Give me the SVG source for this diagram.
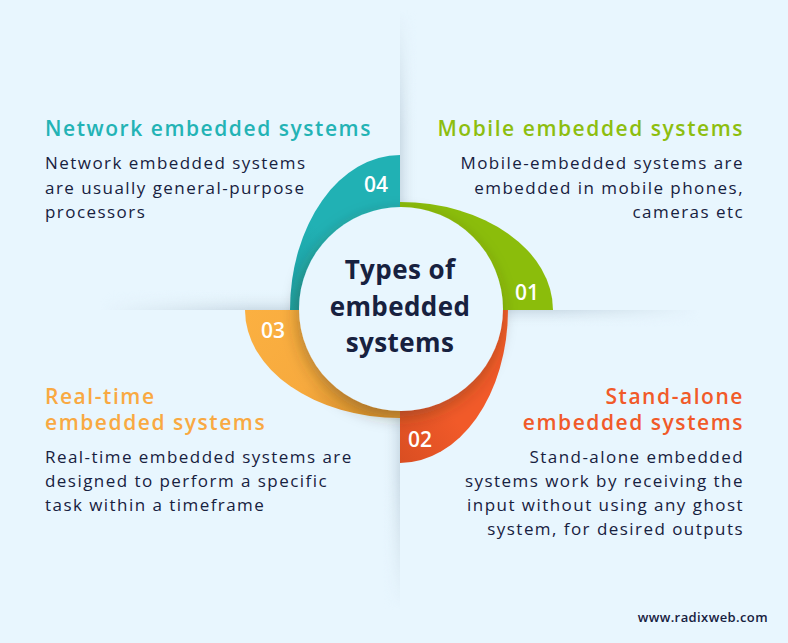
<svg xmlns="http://www.w3.org/2000/svg" width="788" height="643" viewBox="0 0 788 643">
  <defs>
    <style>
      .h { font-family: "Open Sans", "Liberation Sans", sans-serif; font-weight: 600; font-size: 21px; letter-spacing: 1.55px; }
      .b { font-family: "Open Sans", "Liberation Sans", sans-serif; font-weight: 400; font-size: 17px; letter-spacing: 1.45px; fill: #17213F; }
      .num { font-family: "Open Sans", "Liberation Sans", sans-serif; font-weight: 600; font-size: 21px; fill: #FFFFFF; }
      .ctr { font-family: "Open Sans", "Liberation Sans", sans-serif; font-weight: 700; font-size: 26px; letter-spacing: 0.4px; fill: #17213F; text-anchor: middle; }
      .r { text-anchor: end; }
    </style>
    <linearGradient id="shL" x1="0" y1="1" x2="0" y2="0">
      <stop offset="0" stop-color="#C9D9E4" stop-opacity="0.9"/>
      <stop offset="1" stop-color="#E8F6FE" stop-opacity="0"/>
    </linearGradient>
    <linearGradient id="shR" x1="0" y1="0" x2="0" y2="1">
      <stop offset="0" stop-color="#C9D9E4" stop-opacity="0.9"/>
      <stop offset="1" stop-color="#E8F6FE" stop-opacity="0"/>
    </linearGradient>
    <linearGradient id="shT" x1="0" y1="0" x2="1" y2="0">
      <stop offset="0" stop-color="#C9D9E4" stop-opacity="0.9"/>
      <stop offset="1" stop-color="#E8F6FE" stop-opacity="0"/>
    </linearGradient>
    <linearGradient id="shB" x1="1" y1="0" x2="0" y2="0">
      <stop offset="0" stop-color="#C9D9E4" stop-opacity="0.9"/>
      <stop offset="1" stop-color="#E8F6FE" stop-opacity="0"/>
    </linearGradient>
    <linearGradient id="fadeH1" x1="0" y1="0" x2="1" y2="0">
      <stop offset="0" stop-color="#fff" stop-opacity="0"/>
      <stop offset="0.5" stop-color="#fff" stop-opacity="1"/>
      <stop offset="1" stop-color="#fff" stop-opacity="1"/>
    </linearGradient>
    <linearGradient id="fadeH2" x1="0" y1="0" x2="1" y2="0">
      <stop offset="0" stop-color="#fff" stop-opacity="1"/>
      <stop offset="0.5" stop-color="#fff" stop-opacity="1"/>
      <stop offset="1" stop-color="#fff" stop-opacity="0"/>
    </linearGradient>
    <linearGradient id="fadeV1" x1="0" y1="0" x2="0" y2="1">
      <stop offset="0" stop-color="#fff" stop-opacity="0"/>
      <stop offset="0.4" stop-color="#fff" stop-opacity="1"/>
      <stop offset="1" stop-color="#fff" stop-opacity="1"/>
    </linearGradient>
    <linearGradient id="fadeV2" x1="0" y1="0" x2="0" y2="1">
      <stop offset="0" stop-color="#fff" stop-opacity="1"/>
      <stop offset="0.55" stop-color="#fff" stop-opacity="1"/>
      <stop offset="1" stop-color="#fff" stop-opacity="0"/>
    </linearGradient>
    <mask id="mL"><rect x="100" y="290" width="300" height="20" fill="url(#fadeH1)"/></mask>
    <mask id="mR"><rect x="400" y="310" width="300" height="18" fill="url(#fadeH2)"/></mask>
    <mask id="mT"><rect x="400" y="10" width="18" height="300" fill="url(#fadeV1)"/></mask>
    <mask id="mB"><rect x="382" y="310" width="18" height="300" fill="url(#fadeV2)"/></mask>
    <linearGradient id="gOrange" x1="0" y1="0" x2="1" y2="0.6">
      <stop offset="0" stop-color="#FBB041"/>
      <stop offset="0.6" stop-color="#F7AA3E"/>
      <stop offset="1" stop-color="#DE952F"/>
    </linearGradient>
    <linearGradient id="gTeal" x1="0" y1="1" x2="0.6" y2="0">
      <stop offset="0" stop-color="#1C9FA2"/>
      <stop offset="0.5" stop-color="#21B1B4"/>
      <stop offset="1" stop-color="#21B1B4"/>
    </linearGradient>
    <linearGradient id="gRed" x1="1" y1="0" x2="0" y2="1">
      <stop offset="0" stop-color="#F15A29"/>
      <stop offset="0.6" stop-color="#F15A29"/>
      <stop offset="1" stop-color="#D94E22"/>
    </linearGradient>
    <filter id="ds" x="-30%" y="-30%" width="160%" height="160%">
      <feDropShadow dx="-2" dy="6" stdDeviation="8" flood-color="#3A3020" flood-opacity="0.35"/>
    </filter>
  </defs>

  <rect x="0" y="0" width="788" height="643" fill="#E8F6FE"/>

  <g id="panel-shadows">
    <rect x="100" y="290" width="300" height="20" fill="url(#shL)" mask="url(#mL)"/>
    <rect x="400" y="310" width="300" height="18" fill="url(#shR)" mask="url(#mR)"/>
    <rect x="400" y="10" width="18" height="300" fill="url(#shT)" mask="url(#mT)"/>
    <rect x="382" y="310" width="18" height="300" fill="url(#shB)" mask="url(#mB)"/>
  </g>

  <g id="ring">
    <g id="seg-01"><path d="M400,310 L400,202 A153,108 0 0 1 553,310 Z" fill="#8BBD0B"/></g>
    <g id="seg-02"><path d="M400,310 L508,310 A108,153 0 0 1 400,463 Z" fill="url(#gRed)"/></g>
    <g id="seg-03"><path d="M400,310 L400,418 A155,108 0 0 1 245,310 Z" fill="url(#gOrange)"/></g>
    <g id="seg-04"><path d="M400,310 L290,310 A110,155 0 0 1 400,155 Z" fill="url(#gTeal)"/></g>
    <text class="num" x="527" y="300" text-anchor="middle">01</text>
    <text class="num" x="420" y="447" text-anchor="middle">02</text>
    <text class="num" x="273" y="338" text-anchor="middle">03</text>
    <text class="num" x="376" y="192" text-anchor="middle">04</text>
  </g>

  <g id="center">
    <circle cx="401" cy="309" r="102" fill="#E8F6FE" filter="url(#ds)"/>
    <text class="ctr" x="400" y="279">Types of</text>
    <text class="ctr" x="400" y="316">embedded</text>
    <text class="ctr" x="400" y="352">systems</text>
  </g>

  <g id="network">
    <text class="h" x="45" y="136" fill="#23B3B5">Network embedded systems</text>
    <text class="b" x="45" y="169">Network embedded systems</text>
    <text class="b" x="45" y="194">are usually general-purpose</text>
    <text class="b" x="45" y="218">processors</text>
  </g>

  <g id="mobile">
    <text class="h r" x="744" y="136" fill="#8DBE0F">Mobile embedded systems</text>
    <text class="b r" x="744" y="169">Mobile-embedded systems are</text>
    <text class="b r" x="744" y="194">embedded in mobile phones,</text>
    <text class="b r" x="744" y="218">cameras etc</text>
  </g>

  <g id="realtime">
    <text class="h" x="45" y="404" fill="#F9A942">Real-time</text>
    <text class="h" x="45" y="430" fill="#F9A942">embedded systems</text>
    <text class="b" x="45" y="463">Real-time embedded systems are</text>
    <text class="b" x="45" y="487">designed to perform a specific</text>
    <text class="b" x="45" y="511">task within a timeframe</text>
  </g>

  <g id="standalone">
    <text class="h r" x="744" y="404" fill="#F15A29">Stand-alone</text>
    <text class="h r" x="744" y="430" fill="#F15A29">embedded systems</text>
    <text class="b r" x="744" y="463">Stand-alone embedded</text>
    <text class="b r" x="744" y="487">systems work by receiving the</text>
    <text class="b r" x="744" y="511">input without using any ghost</text>
    <text class="b r" x="744" y="535">system, for desired outputs</text>
  </g>

  <text x="768" y="622" text-anchor="end" font-family="'Open Sans', 'Liberation Sans', sans-serif" font-weight="600" font-size="13" letter-spacing="0.4" fill="#17213F">www.radixweb.com</text>
</svg>
